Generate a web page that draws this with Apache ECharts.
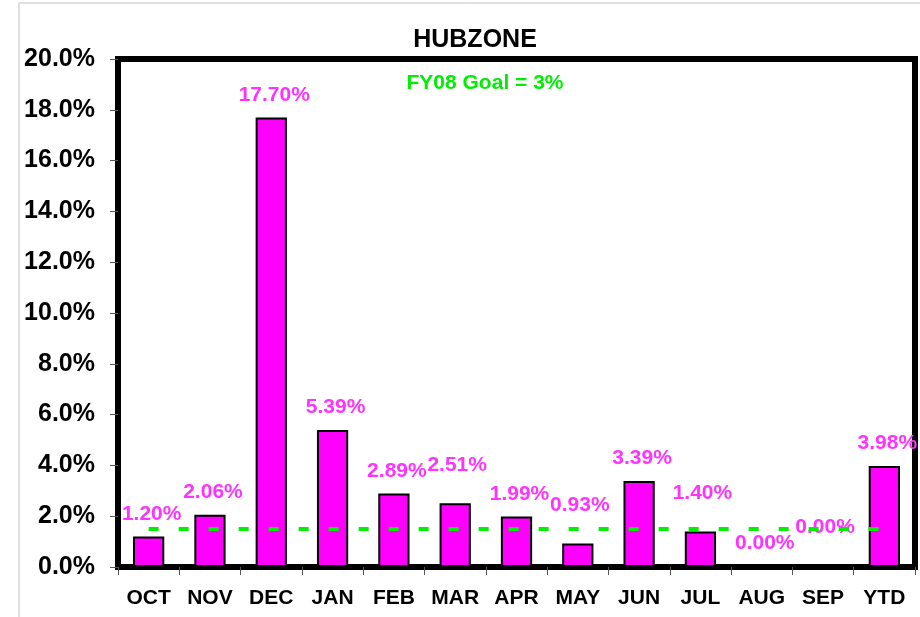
<!DOCTYPE html>
<html>
<head>
<meta charset="utf-8">
<script src="https://cdn.jsdelivr.net/npm/echarts@6/dist/echarts.min.js"></script>
<style>
  html, body { margin: 0; padding: 0; background: #fff; }
  #chart { width: 920px; height: 617px; }
</style>
</head>
<body>
<div id="chart"></div>
<script>
// data
var months = ['OCT', 'NOV', 'DEC', 'JAN', 'FEB', 'MAR', 'APR', 'MAY', 'JUN', 'JUL', 'AUG', 'SEP', 'YTD']
var hubzone = [1.20, 2.06, 17.70, 5.39, 2.89, 2.51, 1.99, 0.93, 3.39, 1.40, 0.00, 0.00, 3.98]
var goalLine = [1.5, 1.5, 1.5, 1.5, 1.5, 1.5, 1.5, 1.5, 1.5, 1.5, 1.5, 1.5, 1.5]

// labels that sit higher than the rest (Excel moved them)
var raised = { MAR: true, MAY: true, JUL: true, SEP: true }

var font = 'Liberation Sans, Arial, sans-serif'
var chart = echarts.init(document.getElementById('chart'))

chart.setOption({
  animation: false,
  title: [
    {
      text: 'HUBZONE',
      left: 470,
      top: 23,
      textAlign: 'center',
      textStyle: { fontFamily: font, fontSize: 25, fontWeight: 'bold', color: '#000' }
    },
    {
      text: 'FY08 Goal = 3%',
      left: 480,
      top: 68,
      textAlign: 'center',
      textStyle: { fontFamily: font, fontSize: 21, fontWeight: 'bold', color: '#00ee00' }
    }
  ],
  graphic: [
    {
      type: 'polyline',
      shape: { points: [[19, 617], [19, 3], [920, 3]] },
      style: { stroke: '#c0c0c0', lineWidth: 1, fill: null }
    }
  ],
  grid: {
    left: 118,
    right: 5,
    top: 59,
    bottom: 50,
    show: true,
    borderColor: '#000',
    borderWidth: 6
  },
  xAxis: {
    type: 'category',
    data: months,
    axisLine: { lineStyle: { color: '#000', width: 6 } },
    axisTick: { show: true, interval: 0, length: 8, lineStyle: { color: '#555', width: 1 } },
    axisLabel: { interval: 0, fontFamily: font, fontSize: 21, fontWeight: 'bold', color: '#000', margin: 21 }
  },
  yAxis: {
    type: 'value',
    min: 0,
    max: 20,
    interval: 2,
    splitLine: { show: false },
    axisLine: { show: true, lineStyle: { color: '#000', width: 6 } },
    axisTick: { show: true, length: 8, lineStyle: { color: '#555', width: 1 } },
    axisLabel: {
      fontFamily: font, fontSize: 25, fontWeight: 'bold', color: '#000', margin: 23,
      formatter: function (v) { return v.toFixed(1) + '%' }
    }
  },
  series: [
    {
      name: 'HUBZONE',
      type: 'bar',
      barWidth: '51%',
      data: hubzone.map(function (v, i) {
        return {
          value: v,
          label: raised[months[i]] ? { offset: [2, -16] } : { offset: [3, 0] }
        }
      }),
      itemStyle: { color: '#ff00ff', borderColor: '#000', borderWidth: 2 },
      label: {
        show: true,
        position: 'top',
        distance: 12,
        fontFamily: font,
        fontSize: 21,
        fontWeight: 'bold',
        color: '#ff33ff',
        formatter: function (p) { return p.value.toFixed(2) + '%' }
      },
      z: 2
    },
    {
      name: 'Goal',
      type: 'line',
      data: goalLine,
      symbol: 'none',
      lineStyle: { color: '#00ee00', width: 4, type: [10, 20] },
      z: 3
    }
  ]
})
</script>
</body>
</html>
